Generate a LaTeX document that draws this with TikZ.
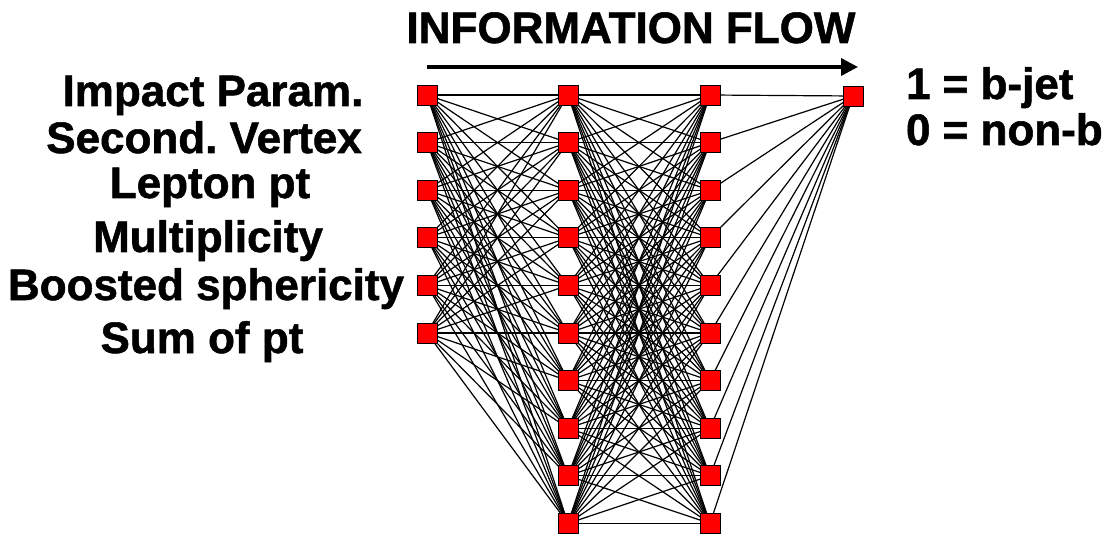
\documentclass[tikz,border=0pt]{standalone}
\usepackage{fontspec}
\setmainfont{Liberation Sans}[BoldFeatures={FakeBold=1.2}]
\frenchspacing
\usetikzlibrary{arrows.meta,backgrounds}
\begin{document}
\begin{tikzpicture}[x=1pt,y=-1pt,
  neuron/.style={draw=black,line width=0.8pt,fill=red,minimum size=20pt,inner sep=0pt,outer sep=0pt},
  bigtext/.style={font=\fontsize{44}{46}\selectfont\bfseries,inner sep=0pt,outer sep=0pt},
  link/.style={line width=1.2pt,black},
  flow/.style={line width=3.5pt,-{Triangle[length=17pt,width=17pt]}}]
\useasboundingbox (0,0) rectangle (1113,537);
% title and arrow
\node[bigtext,anchor=base] (title) at (631,43) {INFORMATION FLOW};
\coordinate (fstart) at (427,67);
\coordinate (fend) at (858,67);
\draw[flow] (fstart) -- (fend);
% input labels
\node[bigtext,anchor=base] (l1) at (213,106) {Impact Param.};
\node[bigtext,anchor=base] (l2) at (204,153) {Second. Vertex};
\node[bigtext,anchor=base] (l3) at (210,198) {Lepton pt};
\node[bigtext,anchor=base] (l4) at (208,252) {Multiplicity};
\node[bigtext,anchor=base] (l5) at (206,300) {Boosted sphericity};
\node[bigtext,anchor=base] (l6) at (202,353) {Sum of pt};
% output labels
\node[bigtext,anchor=base west] (o1) at (906,99) {1 = b-jet};
\node[bigtext,anchor=base west] (o2) at (906,145) {0 = non-b};
% neurons
\foreach \i in {1,...,6} {
  \node[neuron] (in\i) at (427,{95+47.6*(\i-1)}) {};
}
\foreach \i in {1,...,10} {
  \node[neuron] (ha\i) at (568,{95+47.6*(\i-1)}) {};
  \node[neuron] (hb\i) at (710,{95+47.6*(\i-1)}) {};
}
\node[neuron] (out) at (853,96) {};
% connections
\begin{scope}[on background layer]
\foreach \i in {1,...,6} {
  \foreach \j in {1,...,10} {
    \draw[link] (in\i.center) -- (ha\j.center);
  }
}
\foreach \i in {1,...,10} {
  \foreach \j in {1,...,10} {
    \draw[link] (ha\i.center) -- (hb\j.center);
  }
  \draw[link] (hb\i.center) -- (out.center);
}
\end{scope}
\end{tikzpicture}
\end{document}
